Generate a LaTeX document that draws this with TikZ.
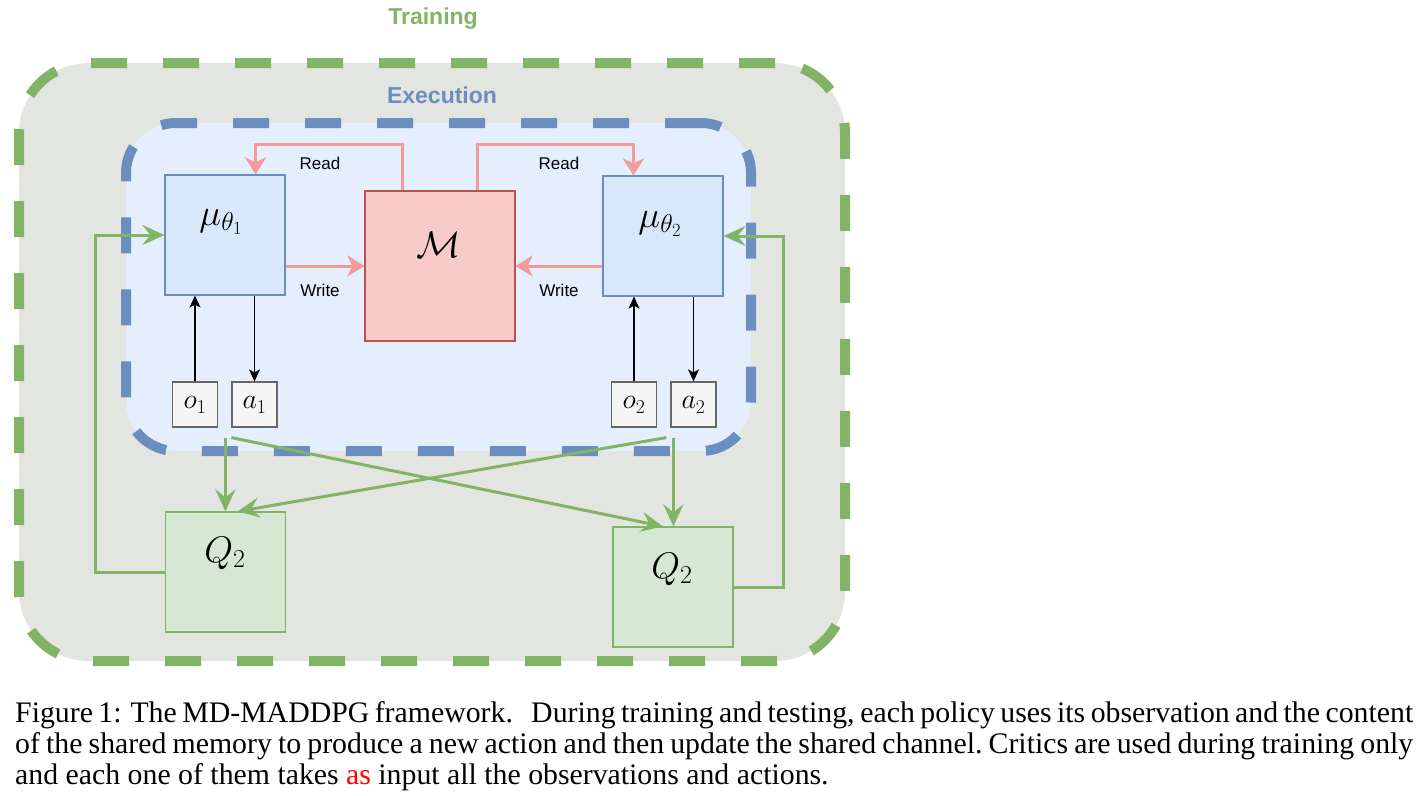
\RequirePackage{fix-cm}
\documentclass[tikz,border=0pt]{standalone}
\usepackage[no-math]{fontspec}
\setmainfont{Liberation Serif}
\newfontfamily\sansf{Liberation Sans}
\usetikzlibrary{arrows.meta,calc}
\definecolor{gA}{HTML}{82B366}
\definecolor{bA}{HTML}{6C8EBF}
\definecolor{rA}{HTML}{B85450}
\definecolor{outerfill}{HTML}{E3E6E0}
\definecolor{innerfill}{HTML}{E4EEFC}
\definecolor{polfill}{HTML}{D9E7FA}
\definecolor{memfill}{HTML}{F7CBCA}
\definecolor{obsfill}{HTML}{F5F5F5}
\definecolor{obsdraw}{HTML}{666666}
\definecolor{qfill}{HTML}{D6E8D4}
\definecolor{pinkc}{HTML}{F49A98}
\begin{document}
\begin{tikzpicture}[x=1pt,y=-1pt,
 outerbox/.style={draw=gA, line width=10pt, fill=outerfill, dash pattern=on 36pt off 36pt, rounded corners=70pt, inner sep=0, minimum width=826pt, minimum height=598pt},
 innerbox/.style={draw=bA, line width=10pt, fill=innerfill, dash pattern=on 36pt off 36pt, rounded corners=50pt, inner sep=0, minimum width=625pt, minimum height=328pt},
 pol/.style={draw=bA, line width=1.2pt, fill=polfill, minimum width=120pt, minimum height=120pt, inner sep=0},
 mem/.style={draw=rA, fill=memfill, line width=1.2pt, minimum width=150pt, minimum height=150pt, inner sep=0},
 obs/.style={draw=obsdraw, fill=obsfill, line width=1.2pt, minimum width=45pt, minimum height=45pt, inner sep=0},
 critic/.style={draw=gA, fill=qfill, line width=1.2pt, minimum width=120pt, minimum height=120pt, inner sep=0},
 pinkarr/.style={draw=pinkc, line width=3pt, -{Stealth[length=17pt,width=21pt,inset=5pt]}},
 blkarr/.style={draw=black, line width=1.3pt, -{Stealth[length=12pt,width=11pt,inset=3pt]}},
 grnarr/.style={draw=gA, line width=3pt, -{Stealth[length=22pt,width=20pt,inset=8pt]}},
 lbl/.style={font=\sansf\fontsize{17}{18}\selectfont, inner sep=0},
 title/.style={font=\sansf\bfseries\fontsize{23}{24}\selectfont, inner sep=0},
 bigmath/.style={inner sep=0, font=\fontsize{37}{40}\selectfont},
 smallmath/.style={inner sep=0, font=\fontsize{28}{30}\selectfont},
 capt/.style={inner sep=0, font=\fontsize{29.8}{31}\selectfont}
]
\useasboundingbox[fill=white] (0,0) rectangle (1423,795);

% containers
\node[outerbox] (train) at (432,362) {};
\node[title, text=gA] (trainlbl) at (433,19) {Training};
\node[innerbox] (exec) at (438.5,287) {};
\node[title, text=bA] (execlbl) at (442,95) {Execution};

% boxes
\node[pol] (mu1) at (225,235) {};
\node[mem] (M) at (440,266) {};
\node[pol] (mu2) at (663,236) {};
\node[obs] (o1) at (195,404.5) {};
\node[obs] (a1) at (254.5,404.5) {};
\node[obs] (o2) at (634,404.5) {};
\node[obs] (a2) at (693.5,404.5) {};
\node[critic] (Q1) at (225.5,572) {};
\node[critic] (Q2) at (673,587) {};

% labels
\node[bigmath] (mu1l) at (221,222) {$\mu_{\theta_1}$};
\node[bigmath] (mu2l) at (660,224) {$\mu_{\theta_2}$};
\node[bigmath] (Ml) at (439,245) {$\mathcal{M}$};
\node[bigmath] (Q1l) at (225,553) {$Q_2$};
\node[bigmath] (Q2l) at (672,569) {$Q_2$};
\node[smallmath] (o1l) at (195,405) {$o_1$};
\node[smallmath] (a1l) at (254.5,405) {$a_1$};
\node[smallmath] (o2l) at (634,405) {$o_2$};
\node[smallmath] (a2l) at (693.5,405) {$a_2$};

\node[lbl] (r1) at (320,163) {Read};
\node[lbl] (r2) at (559,163) {Read};
\node[lbl] (w1) at (320,290) {Write};
\node[lbl] (w2) at (559,290) {Write};

% pink arrows
\draw[pinkarr] ([xshift=38pt]M.north west) -- ++(0,-46) -| ([xshift=-30pt]mu1.north east);
\draw[pinkarr] ([xshift=-38pt]M.north east) -- ++(0,-46) -| ([xshift=31pt]mu2.north west);
\draw[pinkarr] (mu1.east |- M.west) -- (M.west);
\draw[pinkarr] (mu2.west |- M.east) -- (M.east);

% black arrows
\draw[blkarr] (o1.north) -- (o1.north |- mu1.south);
\draw[blkarr] (mu1.south -| a1.north) -- (a1.north);
\draw[blkarr] (o2.north) -- (o2.north |- mu2.south);
\draw[blkarr] (mu2.south -| a2.north) -- (a2.north);

% green arrows
\coordinate (s1v) at ([xshift=-6pt,yshift=-10pt]a1.south west);
\coordinate (s1d) at ([yshift=-10pt]a1.south west);
\coordinate (s2v) at ([xshift=3pt,yshift=-10pt]a2.south west);
\coordinate (s2d) at ([xshift=-4pt,yshift=-10pt]a2.south west);
\draw[grnarr] (s1v) -- (s1v |- Q1.north);
\draw[grnarr] (s1d) -- ([xshift=-10pt]Q2.north);
\draw[grnarr] (s2v) -- (s2v |- Q2.north);
\draw[grnarr] (s2d) -- ([xshift=12pt]Q1.north);
\draw[grnarr] (Q1.west) -- ++(-69,0) |- (mu1.west);
\draw[grnarr] (Q2.east) -- ++(50,0) |- (mu2.east);

% caption
\node[capt, anchor=base west] (cap1) at (15,722) {\makebox[1398pt][s]{Figure 1: The MD-MADDPG framework.\hspace{9pt} During training and testing, each policy uses its observation and the content}};
\node[capt, anchor=base west] (cap2) at (15,753) {\makebox[1398pt][s]{of the shared memory to produce a new action and then update the shared channel.\ Critics are used during training only}};
\node[capt, anchor=base west] (cap3) at (15,784) {and each one of them takes \textcolor{red}{as} input all the observations and actions.};
\end{tikzpicture}
\end{document}
